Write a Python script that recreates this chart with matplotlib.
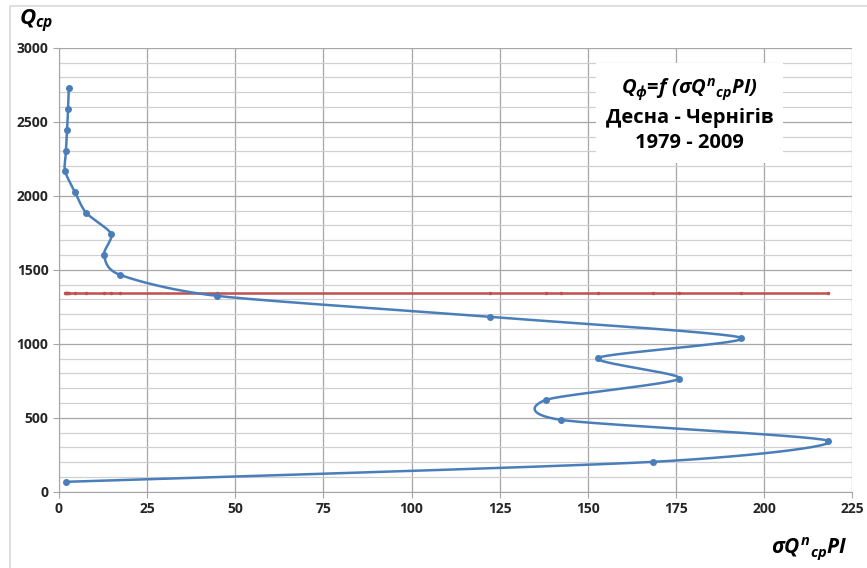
import numpy as np
import matplotlib.pyplot as plt
from matplotlib.patches import Rectangle

plt.rcParams['font.family'] = ['Open Sans', 'DejaVu Sans']
plt.rcParams['mathtext.fontset'] = 'custom'
plt.rcParams['mathtext.rm'] = 'Open Sans:bold:italic'
plt.rcParams['mathtext.it'] = 'Open Sans:bold:italic'
plt.rcParams['mathtext.bf'] = 'Open Sans:bold:italic'

# дані
sigma_q = [2.8, 2.6, 2.3, 2.0, 1.7, 4.5, 7.7, 14.8, 12.8, 17.3, 44.8, 122.3,
           193.5, 152.9, 175.9, 138.2, 142.5, 218.2, 168.6, 2.0]
q_cp = [2730, 2588, 2446, 2304, 2169, 2027, 1885, 1743, 1601, 1466, 1324, 1182,
        1041, 905, 764, 622, 486, 345, 203, 68]
q_mean = 1345
x_ticks = [0, 25, 50, 75, 100, 125, 150, 175, 200, 225]
y_ticks = [0, 500, 1000, 1500, 2000, 2500, 3000]


def smooth(xs, ys, k=0.38, n=30):
    # згладжування лінії (кардинальний сплайн)
    p = np.column_stack([xs, ys]).astype(float)
    p = np.vstack([p[0], p, p[-1]])
    t = np.linspace(0, 1, n)[:, None]
    h00 = 2 * t**3 - 3 * t**2 + 1
    h10 = t**3 - 2 * t**2 + t
    h01 = -2 * t**3 + 3 * t**2
    h11 = t**3 - t**2
    out = []
    for i in range(1, len(p) - 2):
        m1 = k * (p[i + 1] - p[i - 1])
        m2 = k * (p[i + 2] - p[i])
        out.append(h00 * p[i] + h10 * m1 + h01 * p[i + 1] + h11 * m2)
    out = np.vstack(out)
    return out[:, 0], out[:, 1]


fig = plt.figure(figsize=(8.67, 5.68), dpi=100)
fig.patches.append(Rectangle((10 / 867, -0.1), 1.1, 1.09, transform=fig.transFigure,
                             fill=False, edgecolor='#d9d9d9', lw=1.2))
ax = fig.add_axes([0.068, 0.134, 0.915, 0.782])

ax.set_xlim(0, 225)
ax.set_ylim(0, 3000)
ax.set_xticks(x_ticks)
ax.set_yticks(y_ticks)
ax.set_yticks(np.arange(0, 3001, 100), minor=True)
ax.grid(True, which='major', axis='both', color='#a6a6a6', lw=0.9)
ax.grid(True, which='minor', axis='y', color='#d0d0d0', lw=0.9)
ax.set_axisbelow(True)
ax.tick_params(which='minor', length=0)
ax.tick_params(which='major', length=4, color='#a6a6a6', labelsize=10)
for lbl in ax.get_xticklabels() + ax.get_yticklabels():
    lbl.set_fontweight('bold')
    lbl.set_color('#262626')
for s in ['top', 'right']:
    ax.spines[s].set_visible(False)
for s in ['left', 'bottom']:
    ax.spines[s].set_color('#a6a6a6')

red_x = sorted(sigma_q)
ax.plot(red_x, [q_mean] * len(red_x), color='#c0504d', lw=1.8,
        marker='o', ms=1.5, zorder=3)

sx, sy = smooth(sigma_q, q_cp)
ax.plot(sx, sy, color='#4a7ebb', lw=1.8, zorder=4)
ax.plot(sigma_q, q_cp, 'o', color='#4a7ebb', ms=4, zorder=5)

ax.text(0.795, 0.849, '$Q_{ф}$=$f$ $(σQ^{n}{}_{cp}PI)$\nДесна - Чернігів\n1979 - 2009',
        transform=ax.transAxes, ha='center', va='center', fontsize=14.5,
        fontweight='bold', linespacing=1.35,
        bbox=dict(facecolor='white', edgecolor='none', pad=7))

fig.text(0.022, 0.955, '$Q_{cp}$', fontsize=16)
fig.text(0.978, 0.025, '$σQ^{n}{}_{cp}PI$', fontsize=15, ha='right')

fig.savefig('out.png', dpi=100)
